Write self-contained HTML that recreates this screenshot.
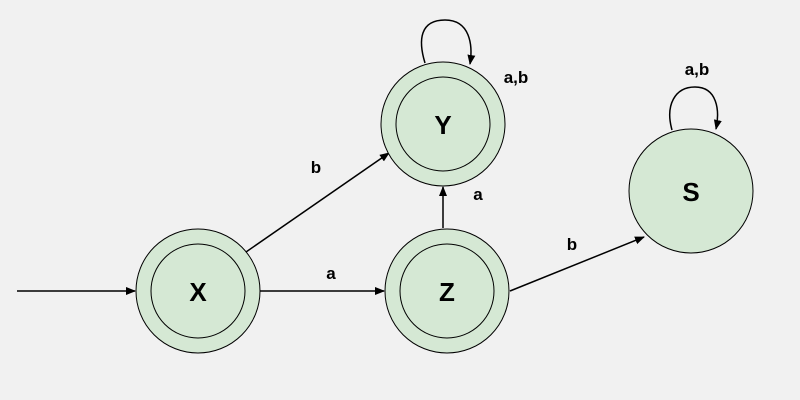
<!DOCTYPE html>
<html><head><style>html,body{margin:0;background:#f1f1f1;overflow:hidden;width:800px;height:400px}svg{display:block}</style></head><body>
<svg width="800" height="400" xmlns="http://www.w3.org/2000/svg" font-family="Liberation Sans, sans-serif" font-weight="bold">
<defs><marker id="a" markerWidth="10" markerHeight="10" refX="9" refY="5" orient="auto" markerUnits="userSpaceOnUse"><path d="M0,1 L10,5 L0,9 Z" fill="#000"/></marker></defs>
<rect width="800" height="400" fill="#f1f1f1"/>
<g stroke="#000" stroke-width="1.5" fill="none" marker-end="url(#a)">
<line x1="17" y1="291" x2="135" y2="291"/>
<line x1="260" y1="291" x2="384" y2="291"/>
<line x1="246" y1="252" x2="389" y2="153"/>
<line x1="443" y1="228" x2="443" y2="187"/>
<line x1="510" y1="291" x2="644" y2="237"/>
<path d="M425,63 C418,40 420,20 445,20 C470,20 473,45 470,64"/>
<path d="M672,130 C665,105 675,87 695,87 C717,87 720,110 716,129"/>
</g>
<g stroke="#000" stroke-width="1" fill="#d5e8d4">
<circle cx="198" cy="291" r="62"/><circle cx="198" cy="291" r="47"/>
<circle cx="443" cy="124" r="62"/><circle cx="443" cy="124" r="47"/>
<circle cx="447" cy="291" r="62"/><circle cx="447" cy="291" r="47"/>
<circle cx="691" cy="191" r="62"/>
</g>
<g font-size="26" text-anchor="middle">
<text x="198" y="301">X</text><text x="443" y="134">Y</text><text x="447" y="301">Z</text><text x="691" y="201">S</text>
</g>
<g font-size="17" text-anchor="middle">
<text x="316" y="173">b</text><text x="331" y="279">a</text><text x="478" y="200">a</text>
<text x="572" y="250">b</text><text x="516" y="83">a,b</text><text x="697" y="75">a,b</text>
</g>
</svg>
</body></html>
